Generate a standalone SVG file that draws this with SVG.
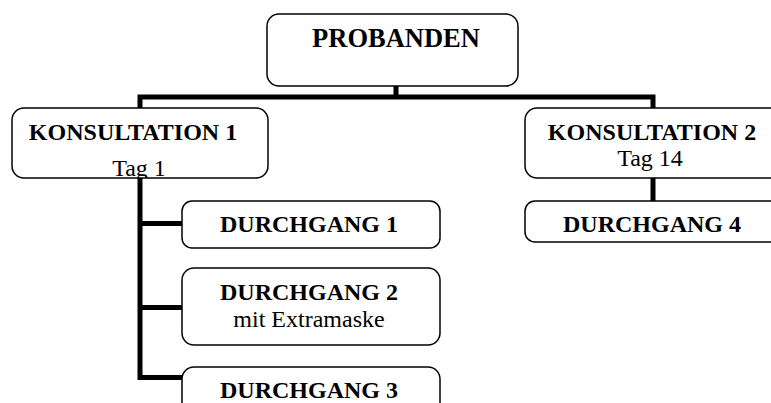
<svg xmlns="http://www.w3.org/2000/svg" width="771" height="403" viewBox="0 0 771 403">
<style>
.box{fill:#fff;stroke:#000;stroke-width:1.5}
.con{fill:none;stroke:#000;stroke-width:5;stroke-linecap:square}
.b{font-family:"Liberation Serif","Times New Roman",serif;font-weight:bold;font-size:24px;text-anchor:middle;fill:#000}
.r{font-family:"Liberation Serif","Times New Roman",serif;font-size:24px;text-anchor:middle;fill:#000}
</style>
<defs>
<clipPath id="ck1"><rect x="12" y="108" width="256" height="70"/></clipPath>
</defs>
<rect width="771" height="403" fill="#fff"/>
<g id="connectors">
<path class="con" d="M396,86 V97 M140,97 H653 M140,97 V108 M653,97 V108"/>
<path class="con" d="M140,178 V377.5 H182 M140,223.5 H182 M140,307.5 H182"/>
<path class="con" d="M653,178 V201"/>
</g>
<g id="probanden">
<rect class="box" x="267" y="14" width="251" height="72" rx="12"/>
<text class="b" x="396" y="47" style="font-size:26.5px">PROBANDEN</text>
</g>
<g id="konsultation1">
<rect class="box" x="12" y="108" width="256" height="70" rx="12"/>
<text class="b" x="133" y="140">KONSULTATION 1</text>
<text class="r" x="139" y="176" clip-path="url(#ck1)">Tag 1</text>
</g>
<g id="konsultation2">
<rect class="box" x="525" y="108" width="258" height="70" rx="12"/>
<text class="b" x="652" y="140">KONSULTATION 2</text>
<text class="r" x="650" y="166">Tag 14</text>
</g>
<g id="durchgang1">
<rect class="box" x="182" y="201" width="258" height="47" rx="10"/>
<text class="b" x="309" y="232">DURCHGANG 1</text>
</g>
<g id="durchgang2">
<rect class="box" x="182" y="268" width="258" height="77" rx="12"/>
<text class="b" x="309" y="300">DURCHGANG 2</text>
<text class="r" x="309" y="327">mit Extramaske</text>
</g>
<g id="durchgang3">
<rect class="box" x="182" y="367" width="258" height="60" rx="12"/>
<text class="b" x="309" y="398">DURCHGANG 3</text>
</g>
<g id="durchgang4">
<rect class="box" x="525" y="201" width="258" height="41" rx="10"/>
<text class="b" x="652" y="232">DURCHGANG 4</text>
</g>
</svg>
